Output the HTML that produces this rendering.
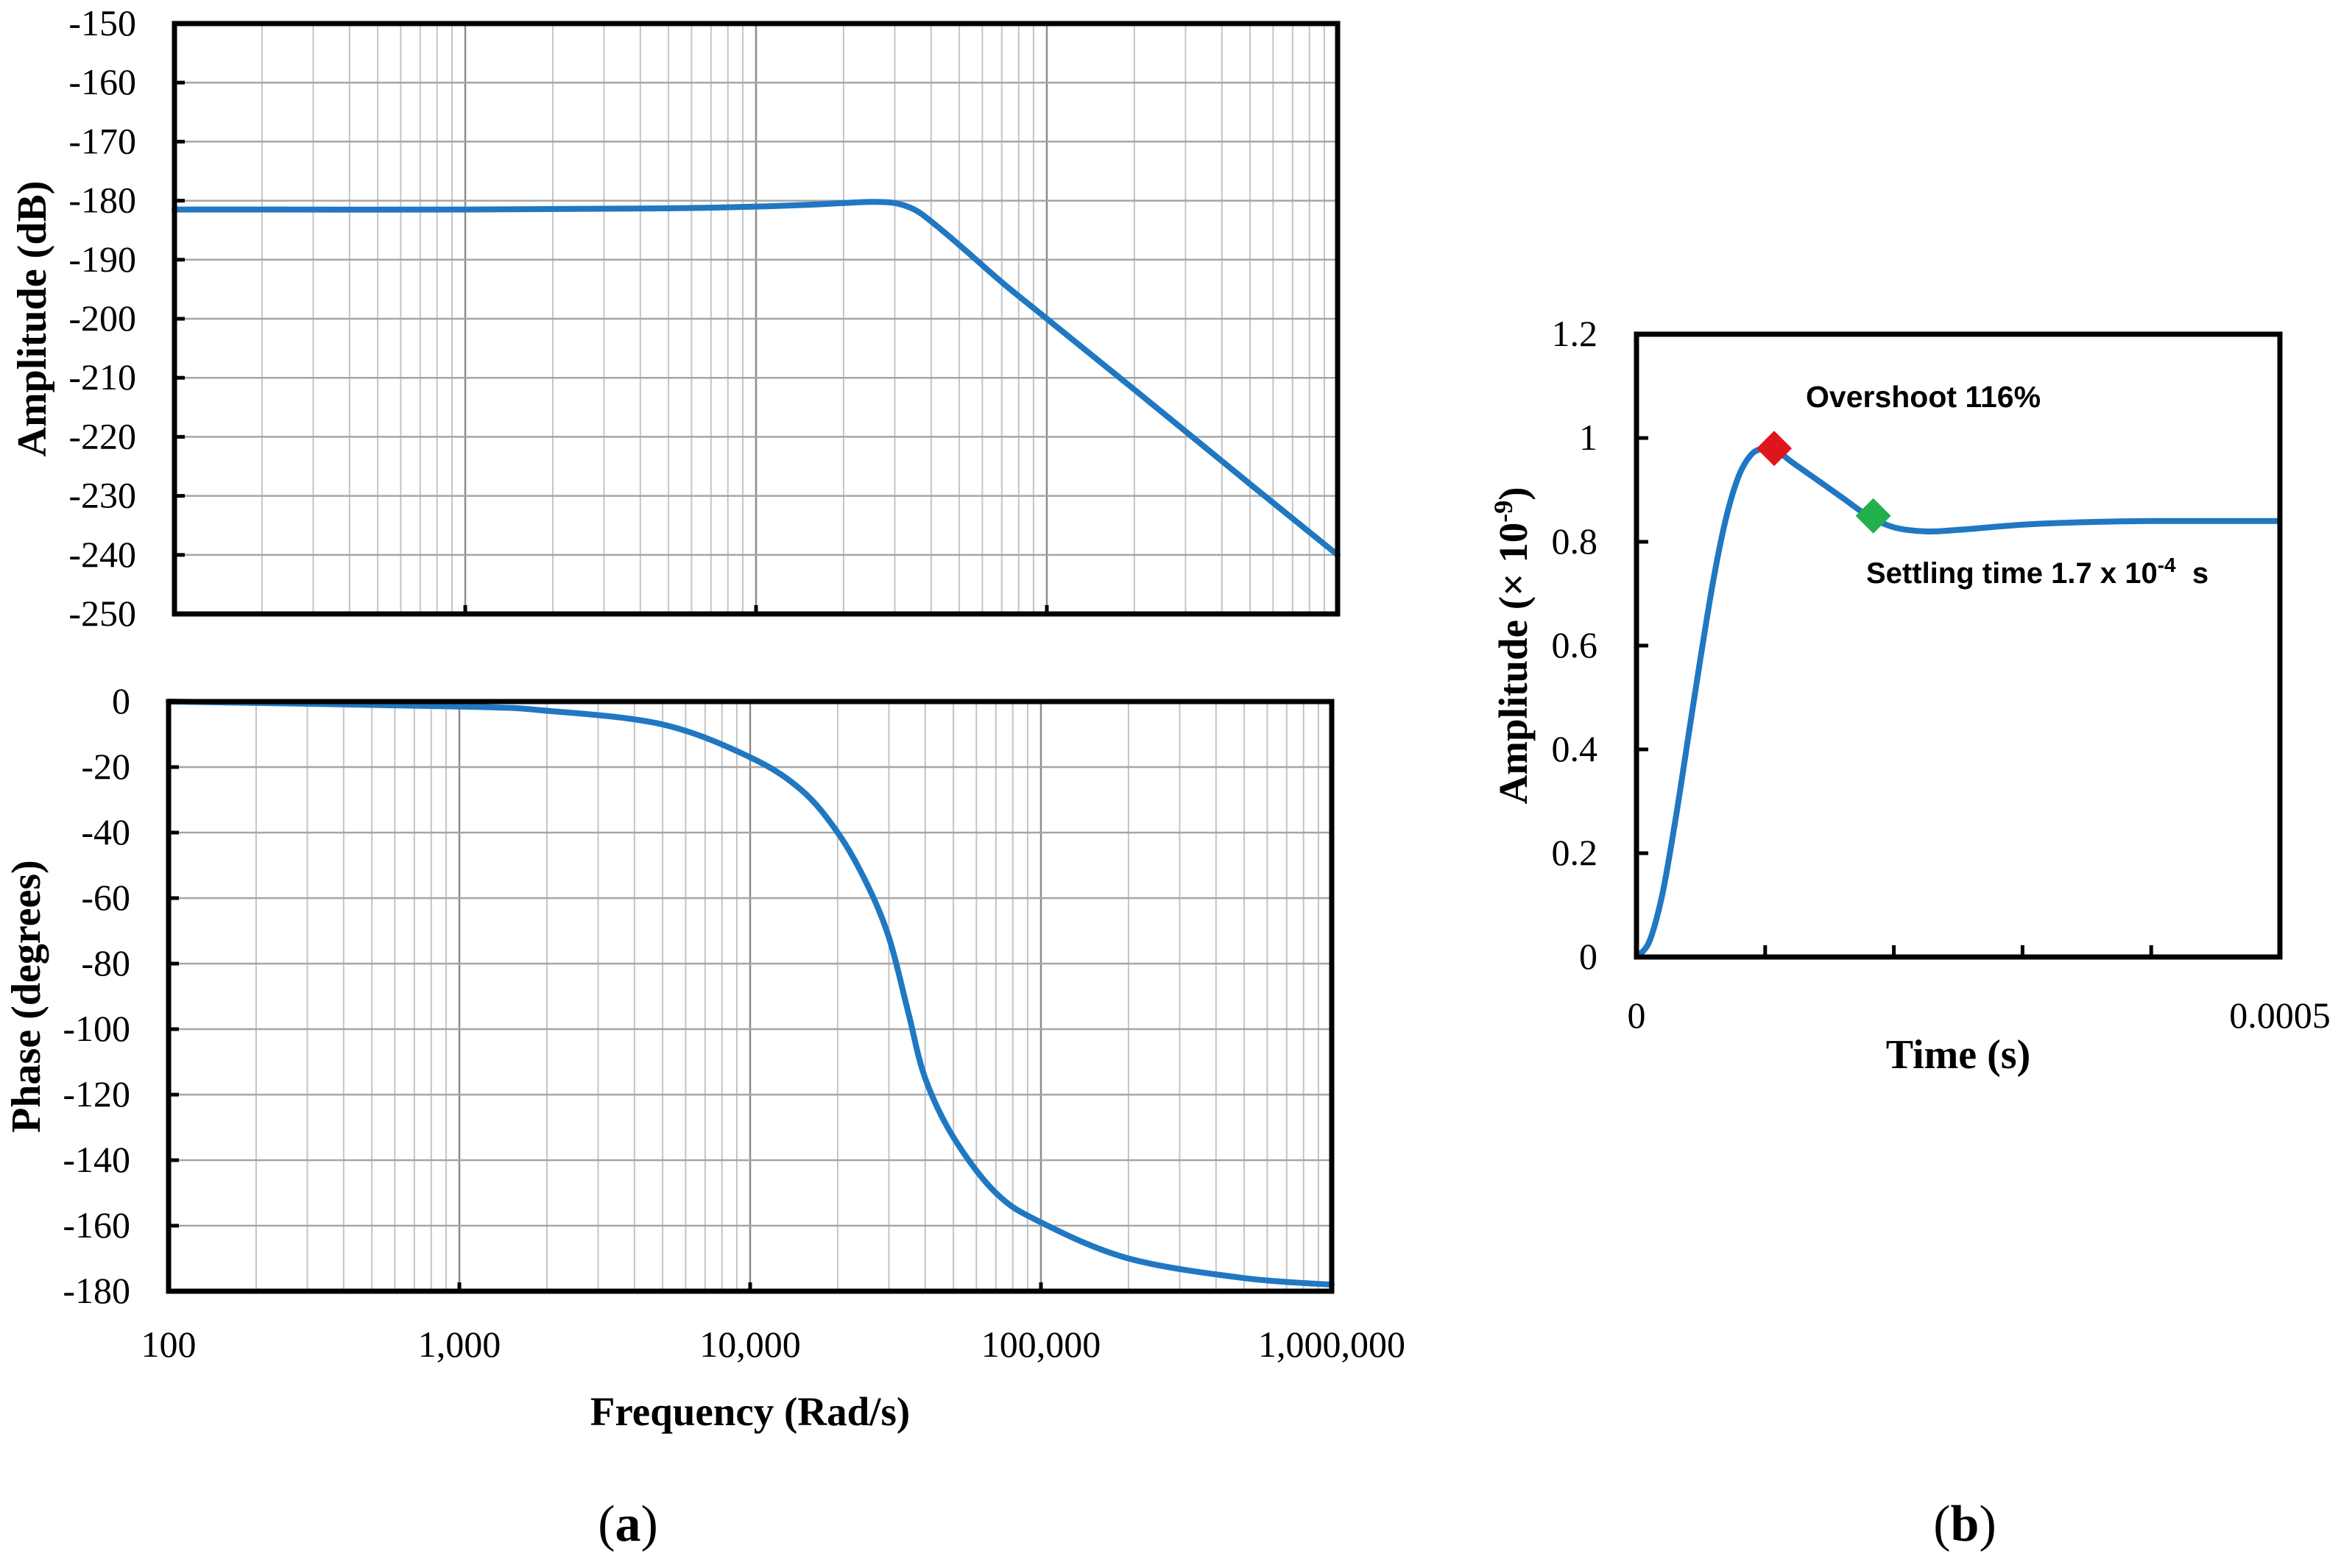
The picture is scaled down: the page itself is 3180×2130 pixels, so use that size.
<!DOCTYPE html>
<html><head><meta charset="utf-8"><style>
html,body{margin:0;padding:0;background:#fff;}
svg{display:block;}
</style></head><body>
<svg id="fig" width="3180" height="2130" viewBox="0 0 3180 2130" xmlns="http://www.w3.org/2000/svg" font-family="'Liberation Serif', serif"></svg>
<script>
// ---- data ----
const ampFreq = [100,1000,5000,10000,15000,20000,25000,30000,35000,40000,50000,70000,100000,200000,500000,1000000];
const ampDb   = [-181.5,-181.5,-181.3,-181.0,-180.7,-180.4,-180.2,-180.4,-181.5,-183.5,-187.5,-193.8,-200,-212,-228,-240];
const phFreq  = [100,1000,2000,5000,10000,15000,20000,25000,30000,35000,40000,50000,70000,100000,200000,500000,1000000];
const phDeg   = [0,-1.5,-2.8,-7,-17,-27,-40,-55,-72,-95,-115,-133,-150,-159,-170,-176,-178];
const ampTicks = [-150,-160,-170,-180,-190,-200,-210,-220,-230,-240,-250];
const phTicks  = [0,-20,-40,-60,-80,-100,-120,-140,-160,-180];
const freqTickLabels = ["100","1,000","10,000","100,000","1,000,000"];
const stepT = [0,1,2,3,4,5,6,7,8,9,10,10.7,12,14,16,18,20,22.5,25,30,35,40,50]; // x1e-5 s
const stepY = [0,0.03,0.12,0.26,0.42,0.58,0.73,0.85,0.93,0.97,0.98,0.98,0.955,0.92,0.885,0.85,0.828,0.82,0.823,0.833,0.838,0.84,0.84];
const stepYTicks = ["0","0.2","0.4","0.6","0.8","1","1.2"];
const overshootPt = [10.7,0.98];
const settlePt = [18.4,0.85];

const NS="http://www.w3.org/2000/svg";
const svg=document.getElementById('fig');
function el(tag,attrs,parent){const e=document.createElementNS(NS,tag);for(const k in attrs)e.setAttribute(k,attrs[k]);(parent||svg).appendChild(e);return e;}
function txt(s,attrs){const t=el('text',attrs);t.textContent=s;return t;}
const BLUE="#1f78c1";
function smooth(pts){
  let d='M'+pts[0][0].toFixed(1)+' '+pts[0][1].toFixed(1);
  for(let i=0;i<pts.length-1;i++){
    const p0=pts[Math.max(0,i-1)],p1=pts[i],p2=pts[i+1],p3=pts[Math.min(pts.length-1,i+2)];
    const c1=[p1[0]+(p2[0]-p0[0])/6,p1[1]+(p2[1]-p0[1])/6];
    const c2=[p2[0]-(p3[0]-p1[0])/6,p2[1]-(p3[1]-p1[1])/6];
    d+=`C${c1[0].toFixed(1)} ${c1[1].toFixed(1)} ${c2[0].toFixed(1)} ${c2[1].toFixed(1)} ${p2[0].toFixed(1)} ${p2[1].toFixed(1)}`;
  }
  return d;
}

function bodePanel(L,R,T,B,ymax,ymin,ticks,freqs,vals,name,title,titleX,showX){
  const g=el('g',{});
  
  
  const xs=f=>L+(Math.log10(f)-2)/4*(R-L);
  const ys=v=>T+(ymax-v)/(ymax-ymin)*(B-T);
  for(let d=2;d<6;d++){for(let m=2;m<=9;m++){const x=xs(m*Math.pow(10,d));
    const ln=el('line',{x1:x,x2:x,y1:T,y2:B,stroke:'#c4c4c4','stroke-width':2},g);
    }}
  for(let d=3;d<6;d++){const x=xs(Math.pow(10,d));
    const ln=el('line',{x1:x,x2:x,y1:T,y2:B,stroke:'#8c8c8c','stroke-width':2.5},g);
    }
  ticks.forEach(v=>{const y=ys(v);
    const ln=el('line',{x1:L,x2:R,y1:y,y2:y,stroke:'#a6a6a6','stroke-width':2.5},g);
    
    el('line',{x1:L,x2:L+14,y1:y,y2:y,stroke:'#000','stroke-width':5},g);
    const t=txt(String(v),{x:L-52,y:y+16,'font-size':50,'text-anchor':'end'});
    });
  for(let d=3;d<6;d++){const x=xs(Math.pow(10,d));el('line',{x1:x,x2:x,y1:B,y2:B-12,stroke:'#000','stroke-width':5},g);}
  const pts=freqs.map((f,i)=>[xs(f),ys(vals[i])]);
  const path=el('path',{d:smooth(pts),fill:'none',stroke:BLUE,'stroke-width':8,'stroke-linejoin':'round','stroke-linecap':'round'},g);
  
  const r=el('rect',{x:L,y:T,width:R-L,height:B-T,fill:'none',stroke:'#000','stroke-width':7},g);
  
  const tt=txt(title,{x:titleX,y:(T+B)/2,'font-size':56,'font-weight':'bold','text-anchor':'middle',transform:`rotate(-90 ${titleX} ${(T+B)/2})`});
  
  if(showX){freqTickLabels.forEach((s,i)=>{const t=txt(s,{x:xs(Math.pow(10,i+2)),y:B+89,'font-size':50,'text-anchor':'middle'});
    });}
}
bodePanel(237,1817,32,834,-150,-250,ampTicks,ampFreq,ampDb,'amplitude','Amplitude (dB)',62,false);
bodePanel(229,1809,953,1754,0,-180,phTicks,phFreq,phDeg,'phase','Phase (degrees)',54,true);
let t=txt('Frequency (Rad/s)',{x:1019,y:1936,'font-size':55,'font-weight':'bold','text-anchor':'middle'});

t=el('text',{x:853,y:2093,'font-size':70,'text-anchor':'middle'});
t.innerHTML='(<tspan font-weight="bold">a</tspan>)';


// step response
(function(){
  const L=2223,R=3097,T=454,B=1300;
  const xs=v=>L+v/50*(R-L), ys=v=>B-v/1.2*(B-T);
  stepYTicks.forEach((s,i)=>{const y=ys(i*0.2);
    el('line',{x1:L,x2:L+16,y1:y,y2:y,stroke:'#000','stroke-width':5});
    const tt=txt(s,{x:2170,y:y+16,'font-size':50,'text-anchor':'end'});
    });
  for(let i=1;i<5;i++){const x=xs(i*10);el('line',{x1:x,x2:x,y1:B,y2:B-16,stroke:'#000','stroke-width':5});}
  const pts=stepT.map((v,i)=>[xs(v),ys(stepY[i])]);
  const path=el('path',{d:smooth(pts),fill:'none',stroke:BLUE,'stroke-width':8,'stroke-linejoin':'round'});
  
  const r=el('rect',{x:L,y:T,width:R-L,height:B-T,fill:'none',stroke:'#000','stroke-width':7});
  
  function diamond(pt,color,name){const x=xs(pt[0]),y=ys(pt[1]),s=24;
    const d=el('polygon',{points:`${x},${y-s} ${x+s},${y} ${x},${y+s} ${x-s},${y}`,fill:color});
    }
  diamond(overshootPt,'#e0141c','overshoot-marker');
  diamond(settlePt,'#22b04b','settling-marker');
  let a=txt('Overshoot 116%',{x:2453,y:553,'font-size':41,'font-weight':'bold','font-family':"'Liberation Sans', sans-serif"});
  
  a=el('text',{x:2535,y:792,'font-size':40,'font-weight':'bold','font-family':"'Liberation Sans', sans-serif"});
  a.innerHTML='Settling time 1.7 x 10<tspan dy="-15" font-size="28">-4</tspan><tspan dy="15" xml:space="preserve">  s</tspan>';
  
  a=txt('0',{x:L,y:1396,'font-size':50,'text-anchor':'middle'});
  
  a=txt('0.0005',{x:3097,y:1396,'font-size':50,'text-anchor':'middle'});
  
  a=txt('Time (s)',{x:2660,y:1451,'font-size':56,'font-weight':'bold','text-anchor':'middle'});
  
  a=el('text',{x:2074,y:877,'font-size':55,'font-weight':'bold','text-anchor':'middle',transform:'rotate(-90 2074 877)'});
  a.innerHTML='Amplitude (× 10<tspan dy="-20" font-size="36">-9</tspan><tspan dy="20">)</tspan>';
  
  a=el('text',{x:2669,y:2093,'font-size':70,'text-anchor':'middle'});
  a.innerHTML='(<tspan font-weight="bold">b</tspan>)';
  
})();
</script>
</body></html>
